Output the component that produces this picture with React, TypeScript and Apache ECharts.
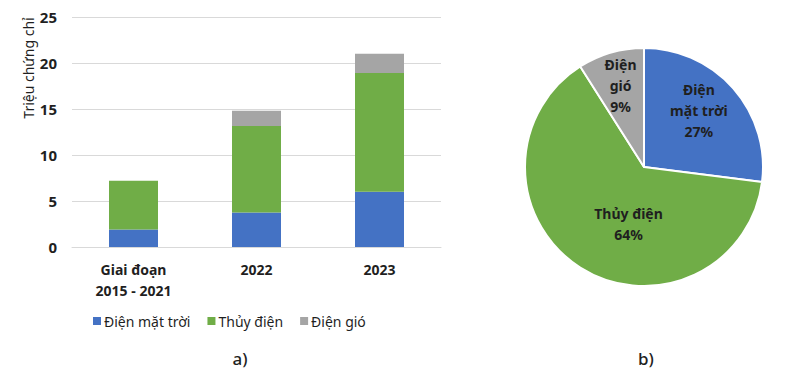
import React, { useEffect, useRef } from "react";
import * as echarts from "echarts";

const categories = ["Giai đoạn\n2015 - 2021", "2022", "2023"];
const seriesNames = ["Điện mặt trời", "Thủy điện", "Điện gió"];
const solarValues = [1.9, 3.75, 6.0];
const hydroValues = [5.3, 9.4, 12.9];
const windValues = [0, 1.65, 2.1];
const yTicks = { min: 0, max: 25, interval: 5 };
const yAxisTitle = "Triệu chứng chỉ";

const pieValues = [27, 64, 9];
const pieLabels = ["Điện\nmặt trời", "Thủy điện", "Điện\ngió"];
const panelLabels = ["a)", "b)"];

const colors = ["#4472C4", "#70AD47", "#A5A5A5"];
const FONT = "Noto Sans";
const TEXT = "#1f1f1f";

export default function App() {
  const ref = useRef<HTMLDivElement>(null);
  useEffect(() => {
    document.body.style.margin = "0";
    if (!ref.current) return;
    const chart = echarts.init(ref.current, null, { renderer: "svg" });
    const labelShift: Record<number, [number, number]> = {
      0: [8, -15],
      1: [18, 4],
      2: [-6, -21],
    };
    chart.setOption({
      animation: false,
      textStyle: { fontFamily: FONT, color: TEXT },
      color: colors,
      grid: { left: 72, right: 359, top: 17, bottom: 130 },
      legend: {
        data: seriesNames,
        left: 88,
        top: 309,
        itemWidth: 8,
        itemHeight: 8,
        itemGap: 17,
        icon: "rect",
        textStyle: { fontFamily: FONT, fontSize: 14, color: TEXT, padding: [0, 0, 0, -2] },
      },
      xAxis: {
        type: "category",
        data: categories,
        axisTick: { show: false },
        axisLine: { lineStyle: { color: "#d9d9d9", width: 1 } },
        axisLabel: {
          margin: 12,
          fontFamily: FONT,
          fontSize: 14,
          fontWeight: "bold",
          color: TEXT,
          lineHeight: 21,
        },
      },
      yAxis: {
        type: "value",
        min: yTicks.min,
        max: yTicks.max,
        interval: yTicks.interval,
        axisLine: { show: false },
        axisTick: { show: false },
        splitLine: { lineStyle: { color: "#d9d9d9", width: 1 } },
        axisLabel: {
          margin: 15,
          fontFamily: FONT,
          fontSize: 15,
          fontWeight: "bold",
          color: TEXT,
        },
      },
      graphic: [
        {
          type: "text",
          x: 28,
          y: 68,
          rotation: Math.PI / 2,
          style: {
            text: yAxisTitle,
            fontFamily: FONT,
            fontSize: 14,
            fill: TEXT,
            textAlign: "center",
            textVerticalAlign: "middle",
          },
        },
        {
          type: "text",
          x: 240,
          y: 358,
          style: {
            text: panelLabels[0],
            fontFamily: FONT,
            fontSize: 17,
            fontWeight: 500,
            fill: TEXT,
            textAlign: "center",
            textVerticalAlign: "middle",
          },
        },
        {
          type: "text",
          x: 646,
          y: 358,
          style: {
            text: panelLabels[1],
            fontFamily: FONT,
            fontSize: 17,
            fontWeight: 500,
            fill: TEXT,
            textAlign: "center",
            textVerticalAlign: "middle",
          },
        },
      ],
      series: [
        {
          name: seriesNames[0],
          type: "bar",
          stack: "total",
          barWidth: 49,
          data: solarValues,
          itemStyle: { color: colors[0] },
        },
        {
          name: seriesNames[1],
          type: "bar",
          stack: "total",
          barWidth: 49,
          data: hydroValues,
          itemStyle: { color: colors[1] },
        },
        {
          name: seriesNames[2],
          type: "bar",
          stack: "total",
          barWidth: 49,
          data: windValues,
          itemStyle: { color: colors[2] },
        },
        {
          type: "pie",
          center: [644, 167],
          radius: [0, 119],
          startAngle: 90,
          clockwise: true,
          legendHoverLink: false,
          itemStyle: { borderColor: "#ffffff", borderWidth: 2 },
          label: {
            show: true,
            position: "inside",
            fontFamily: FONT,
            fontSize: 14,
            fontWeight: "bold",
            color: TEXT,
            lineHeight: 21,
            formatter: (p: any) => pieLabels[p.dataIndex] + "\n" + p.percent.toFixed(0) + "%",
          },
          labelLayout: (p: any) => {
            const s = labelShift[p.dataIndex] || [0, 0];
            return { dx: s[0], dy: s[1] };
          },
          labelLine: { show: false },
          data: pieValues.map((v, i) => ({
            value: v,
            name: seriesNames[i],
            itemStyle: { color: colors[i] },
          })),
        },
      ],
    });
    return () => chart.dispose();
  }, []);
  return (
    <div
      ref={ref}
      style={{ position: "fixed", left: 0, top: 0, width: 800, height: 377, background: "#fff" }}
    />
  );
}
